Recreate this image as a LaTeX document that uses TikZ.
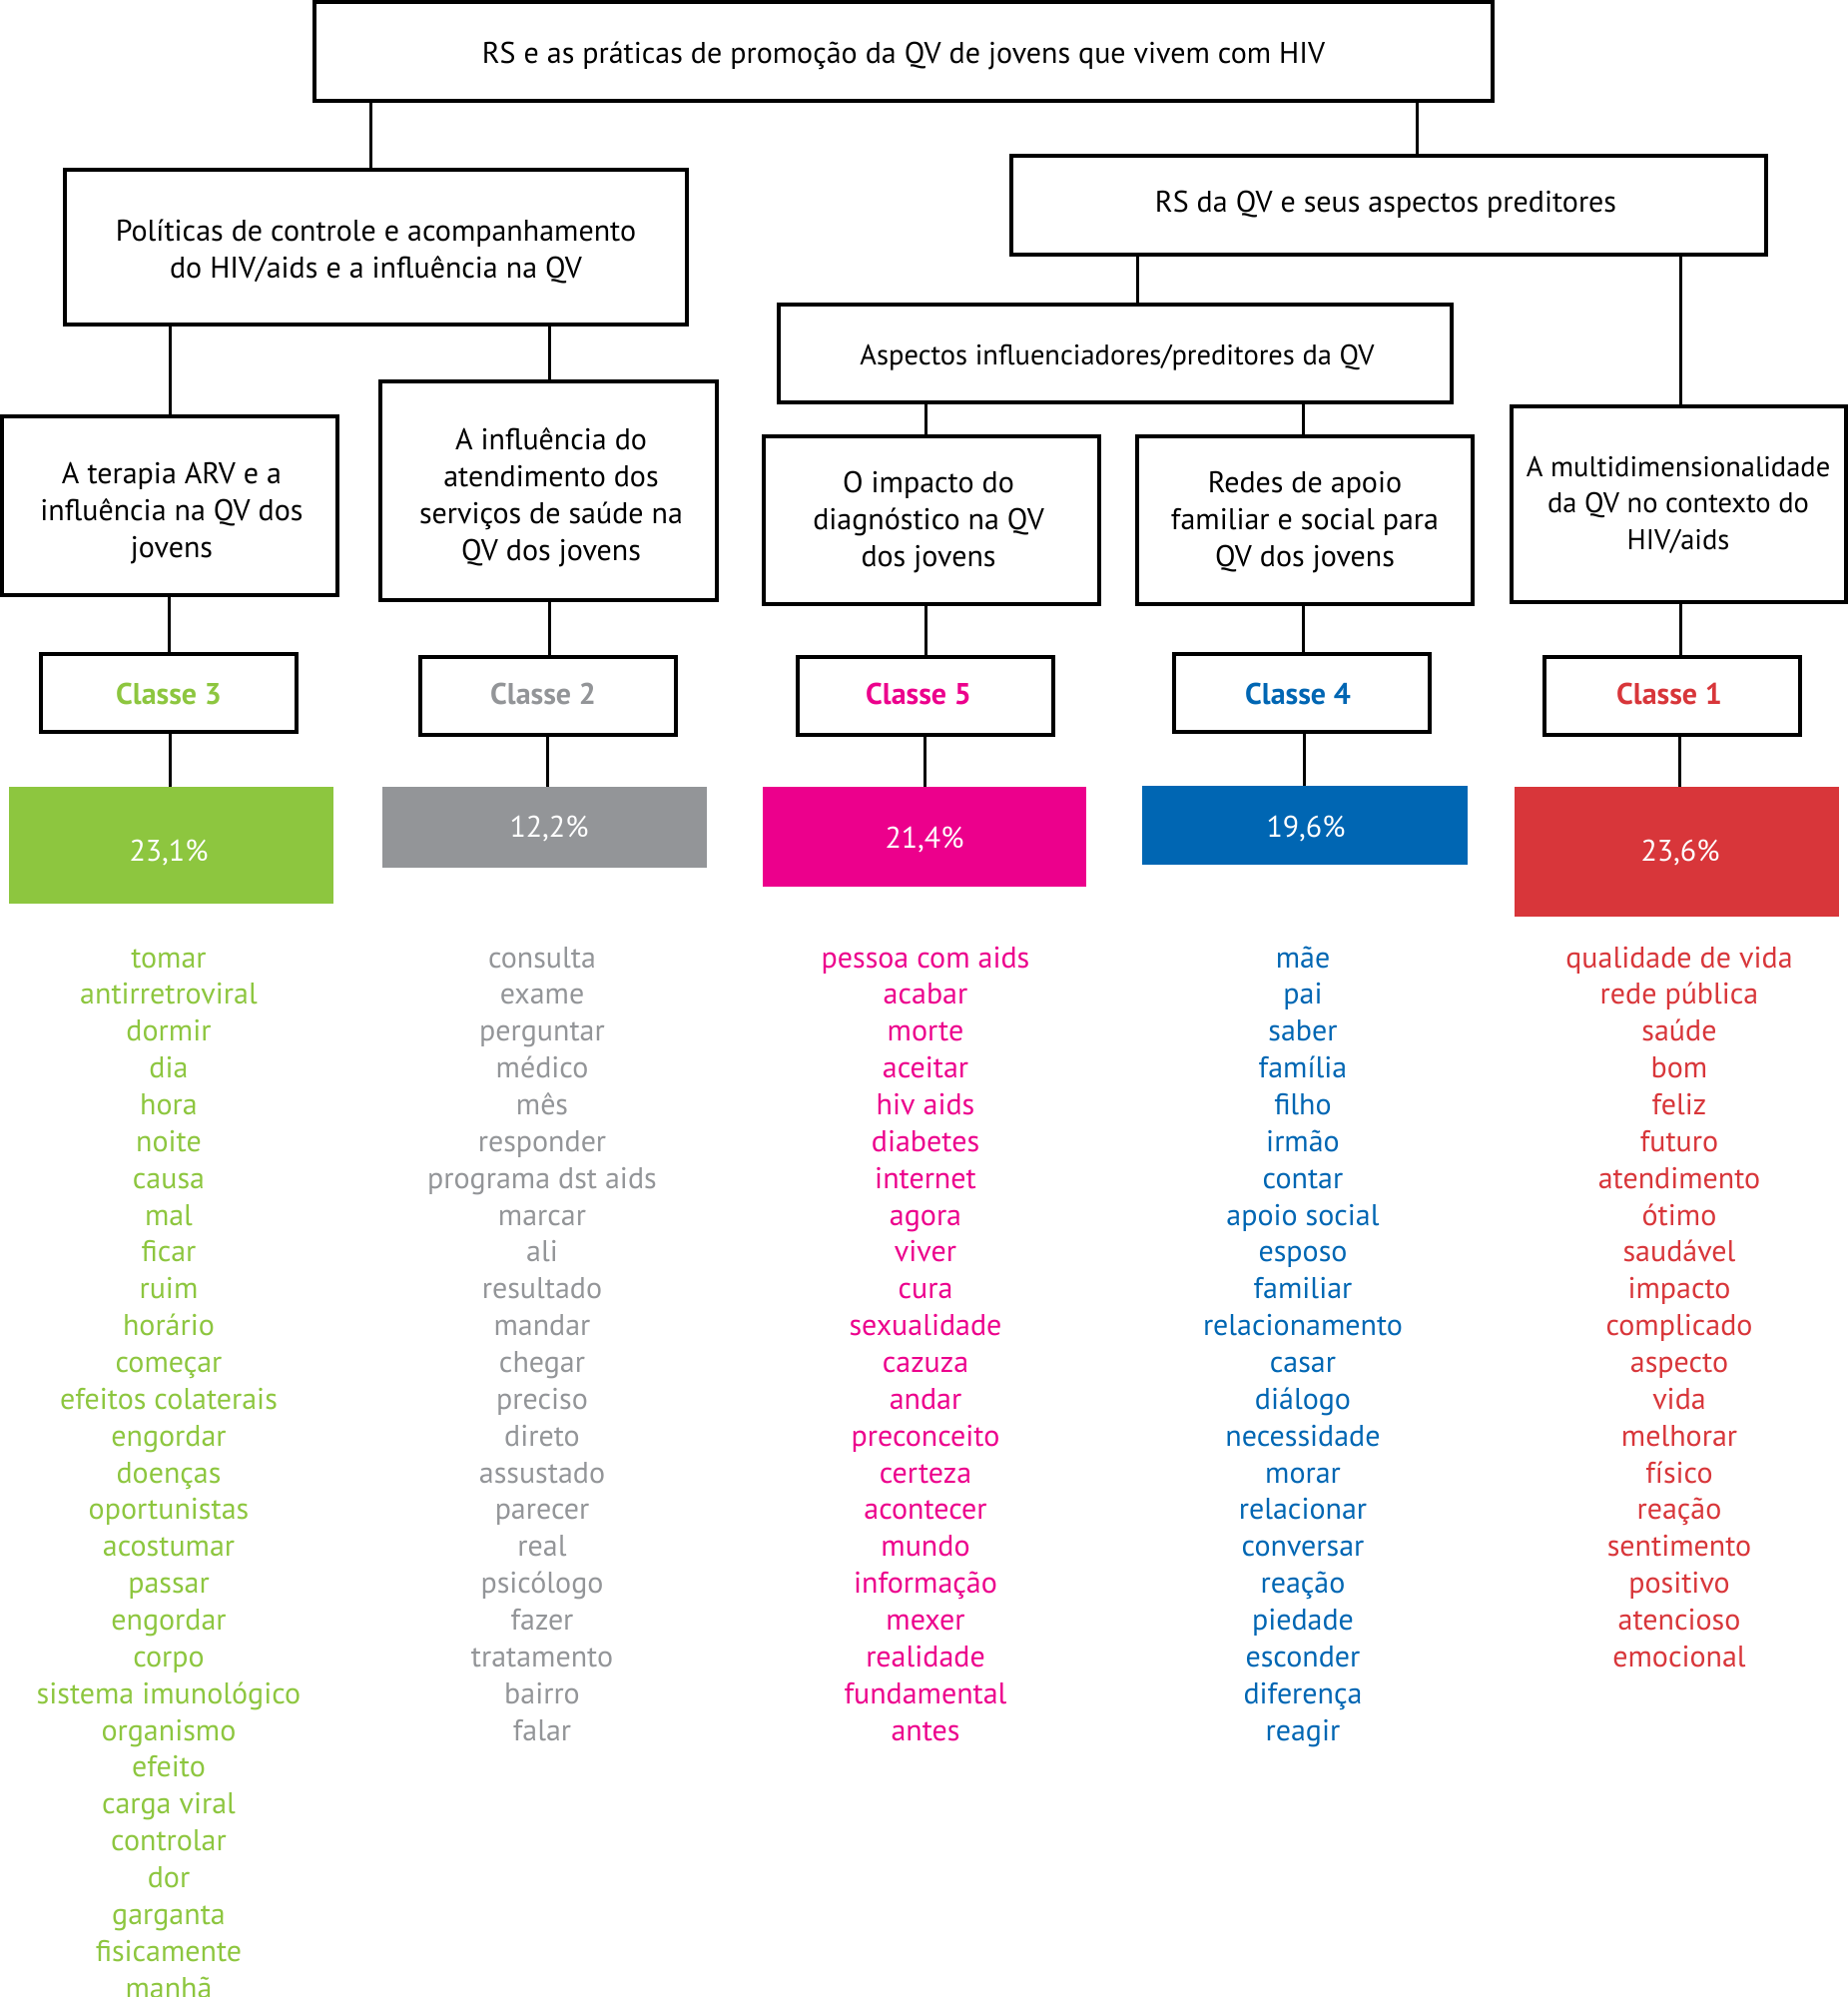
\documentclass[tikz,border=0pt]{standalone}
\usepackage{fontspec}
\setmainfont{PT Sans}
\definecolor{cgreen}{HTML}{8DC63F}
\definecolor{cgray}{HTML}{939598}
\definecolor{cmag}{HTML}{EC008C}
\definecolor{cblue}{HTML}{0066B3}
\definecolor{cred}{HTML}{D8363A}
\newcommand{\fs}{\fontsize{30}{37}\selectfont}
\newcommand{\fss}{\fontsize{28.5}{37}\selectfont}
\begin{document}
\begin{tikzpicture}[x=1pt,y=-1pt,
 box/.style={draw, line width=3.5pt, inner sep=0pt},
 txt/.style={anchor=base, font=\fs, inner sep=0pt},
 clstxt/.style={txt, font=\fs\bfseries},
 pct/.style={inner sep=0pt},
 pcttxt/.style={txt, text=white},
 conn/.style={line width=3pt},
 word/.style={anchor=base, font=\fs, inner sep=0pt}]
\useasboundingbox (0,0) rectangle (1851,2000);
% main boxes
\node[box, minimum width=1180pt, minimum height=99pt] (top) at (905,51.5) {};
\node[txt] (ttop) at (905,63) {RS e as práticas de promoção da QV de jovens que vivem com HIV};
\node[box, minimum width=623pt, minimum height=155pt] (pol) at (376.5,247.5) {};
\foreach \l [count=\i] in {Políticas de controle e acompanhamento, do HIV/aids e a influência na QV}
  \node[txt] (tpol\i) at (376.5,{241+(\i-1)*37}) {\l};
\node[box, minimum width=756pt, minimum height=99pt] (rsqv) at (1391,205.5) {};
\node[txt] (trsqv) at (1388,212) {RS da QV e seus aspectos preditores};
\node[box, minimum width=674pt, minimum height=98pt] (asp) at (1117,354) {};
\node[txt, font=\fss] (tasp) at (1119,365) {Aspectos influenciadores/preditores da QV};
\node[box, minimum width=336pt, minimum height=179pt] (ter) at (170,506.5) {};
\foreach \l [count=\i] in {A terapia ARV e a, influência na QV dos, jovens}
  \node[txt] (tter\i) at (172,{484+(\i-1)*37}) {\l};
\node[box, minimum width=337pt, minimum height=219pt] (inf) at (549.5,491.5) {};
\foreach \l [count=\i] in {A influência do, atendimento dos, serviços de saúde na, QV dos jovens}
  \node[txt] (tinf\i) at (552,{450+(\i-1)*37}) {\l};
\node[box, minimum width=336pt, minimum height=168pt] (imp) at (933,521) {};
\foreach \l [count=\i] in {O impacto do, diagnóstico na QV, dos jovens}
  \node[txt] (timp\i) at (930,{493+(\i-1)*37}) {\l};
\node[box, minimum width=336pt, minimum height=168pt] (red) at (1307,521) {};
\foreach \l [count=\i] in {Redes de apoio, familiar e social para, QV dos jovens}
  \node[txt] (tred\i) at (1307,{493+(\i-1)*37}) {\l};
\node[box, minimum width=335pt, minimum height=196pt] (mul) at (1681.5,505) {};
\foreach \l [count=\i] in {A multidimensionalidade, da QV no contexto do, HIV/aids}
  \node[txt, font=\fss] (tmul\i) at (1681,{477+(\i-1)*36.5}) {\l};
% classes
\node[box, minimum width=256pt, minimum height=78pt] (c3) at (169,694) {};
\node[box, minimum width=256pt, minimum height=78pt] (c2) at (549,697) {};
\node[box, minimum width=256pt, minimum height=78pt] (c5) at (927,697) {};
\node[box, minimum width=256pt, minimum height=78pt] (c4) at (1304,694) {};
\node[box, minimum width=256pt, minimum height=78pt] (c1) at (1675,697) {};
\node[clstxt, text=cgreen] (tc3) at (169,705) {Classe 3};
\node[clstxt, text=cgray] (tc2) at (544,705) {Classe 2};
\node[clstxt, text=cmag] (tc5) at (920,705) {Classe 5};
\node[clstxt, text=cblue] (tc4) at (1300,705) {Classe 4};
\node[clstxt, text=cred] (tc1) at (1672,705) {Classe 1};
% percentages
\node[pct, fill=cgreen, minimum width=325pt, minimum height=117pt] (p3) at (171.5,846.5) {};
\node[pct, fill=cgray, minimum width=325pt, minimum height=81pt] (p2) at (545.5,828.5) {};
\node[pct, fill=cmag, minimum width=324pt, minimum height=100pt] (p5) at (926,838) {};
\node[pct, fill=cblue, minimum width=326pt, minimum height=79pt] (p4) at (1307,826.5) {};
\node[pct, fill=cred, minimum width=325pt, minimum height=130pt] (p1) at (1679.5,853) {};
\node[pcttxt] (tp3) at (169,862) {23,1\%};
\node[pcttxt] (tp2) at (550,838) {12,2\%};
\node[pcttxt] (tp5) at (926,849) {21,4\%};
\node[pcttxt] (tp4) at (1308,838) {19,6\%};
\node[pcttxt] (tp1) at (1683,862) {23,6\%};
% connectors
\draw[conn] (top.south -| 371,0) -- (pol.north -| 371,0);
\draw[conn] (top.south -| 1419,0) -- (rsqv.north -| 1419,0);
\draw[conn] (pol.south -| 170,0) -- (ter.north -| 170,0);
\draw[conn] (pol.south -| 550,0) -- (inf.north -| 550,0);
\draw[conn] (rsqv.south -| 1139,0) -- (asp.north -| 1139,0);
\draw[conn] (rsqv.south -| 1683,0) -- (mul.north -| 1683,0);
\draw[conn] (asp.south -| 927,0) -- (imp.north -| 927,0);
\draw[conn] (asp.south -| 1305,0) -- (red.north -| 1305,0);
\draw[conn] (ter.south -| 169,0) -- (c3.north -| 169,0);
\draw[conn] (inf.south -| 550,0) -- (c2.north -| 550,0);
\draw[conn] (imp.south -| 927,0) -- (c5.north -| 927,0);
\draw[conn] (red.south -| 1305,0) -- (c4.north -| 1305,0);
\draw[conn] (mul.south -| 1683,0) -- (c1.north -| 1683,0);
\draw[conn] (c3.south -| 170,0) -- (p3.north -| 170,0);
\draw[conn] (c2.south -| 548,0) -- (p2.north -| 548,0);
\draw[conn] (c5.south -| 926,0) -- (p5.north -| 926,0);
\draw[conn] (c4.south -| 1306,0) -- (p4.north -| 1306,0);
\draw[conn] (c1.south -| 1682,0) -- (p1.north -| 1682,0);
% word lists
\foreach \w [count=\i] in {tomar, antirretroviral, dormir, dia, hora, noite, causa, mal, ficar, ruim, horário, começar, efeitos colaterais, engordar, doenças, oportunistas, acostumar, passar, engordar, corpo, sistema imunológico, organismo, efeito, carga viral, controlar, dor, garganta, fisicamente, manhã}
  \node[word, text=cgreen] (g\i) at (169,{969+(\i-1)*36.86}) {\w};
\foreach \w [count=\i] in {consulta, exame, perguntar, médico, mês, responder, programa dst aids, marcar, ali, resultado, mandar, chegar, preciso, direto, assustado, parecer, real, psicólogo, fazer, tratamento, bairro, falar}
  \node[word, text=cgray] (k\i) at (543,{969+(\i-1)*36.86}) {\w};
\foreach \w [count=\i] in {pessoa com aids, acabar, morte, aceitar, hiv aids, diabetes, internet, agora, viver, cura, sexualidade, cazuza, andar, preconceito, certeza, acontecer, mundo, informação, mexer, realidade, fundamental, antes}
  \node[word, text=cmag] (m\i) at (927,{969+(\i-1)*36.86}) {\w};
\foreach \w [count=\i] in {mãe, pai, saber, família, filho, irmão, contar, apoio social, esposo, familiar, relacionamento, casar, diálogo, necessidade, morar, relacionar, conversar, reação, piedade, esconder, diferença, reagir}
  \node[word, text=cblue] (b\i) at (1305,{969+(\i-1)*36.86}) {\w};
\foreach \w [count=\i] in {qualidade de vida, rede pública, saúde, bom, feliz, futuro, atendimento, ótimo, saudável, impacto, complicado, aspecto, vida, melhorar, físico, reação, sentimento, positivo, atencioso, emocional}
  \node[word, text=cred] (r\i) at (1682,{969+(\i-1)*36.86}) {\w};
\end{tikzpicture}
\end{document}
